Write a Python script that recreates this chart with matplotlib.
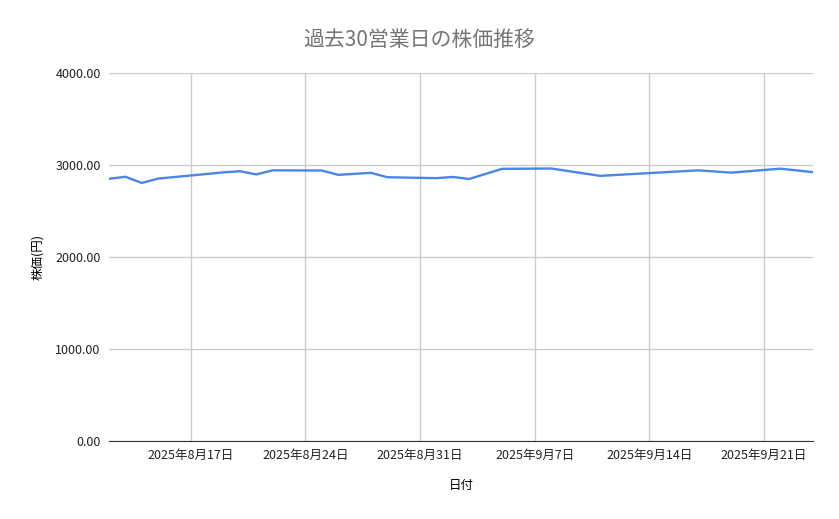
import matplotlib
matplotlib.use("Agg")
import matplotlib.pyplot as plt
import pandas as pd

plt.rcParams['font.family'] = ['Noto Sans CJK JP', 'DejaVu Sans']

# data
dates = ["2025-08-12", "2025-08-13", "2025-08-14", "2025-08-15", "2025-08-19",
         "2025-08-20", "2025-08-21", "2025-08-22", "2025-08-25", "2025-08-26",
         "2025-08-28", "2025-08-29", "2025-09-01", "2025-09-02", "2025-09-03",
         "2025-09-05", "2025-09-08", "2025-09-11", "2025-09-17", "2025-09-19",
         "2025-09-22", "2025-09-24"]
prices = [2850, 2872, 2805, 2852, 2920, 2932, 2898, 2942, 2940, 2893,
          2915, 2867, 2857, 2870, 2848, 2958, 2962, 2882, 2942, 2917,
          2960, 2922]
ticks = ["2025-08-17", "2025-08-24", "2025-08-31", "2025-09-07", "2025-09-14", "2025-09-21"]

x = pd.to_datetime(dates)

fig = plt.figure(figsize=(8.39, 5.19), dpi=100)
ax = fig.add_axes([109/839, 1 - 441/519, (813-109)/839, (441-73)/519])

ax.plot(x, prices, color="#4a86e8", linewidth=1.7)

ax.set_xlim(x[0], x[-1])
ax.set_ylim(0, 4000)
ax.set_yticks([0, 1000, 2000, 3000, 4000])
ax.yaxis.set_major_formatter(matplotlib.ticker.FormatStrFormatter("%.2f"))
tk = pd.to_datetime(ticks)
ax.set_xticks(tk)
ax.set_xticklabels([f"{d.year}年{d.month}月{d.day}日" for d in tk])

ax.grid(True, color="#cccccc", linewidth=1)
ax.set_axisbelow(True)
for s in ["top", "right", "left"]:
    ax.spines[s].set_visible(False)
ax.spines["bottom"].set_color("#333333")
ax.tick_params(length=0, labelsize=9, colors="#222222", pad=6)

ax.set_xlabel("日付", fontsize=9, labelpad=12)
ax.set_ylabel("株価(円)", fontsize=9, labelpad=8)
fig.suptitle("過去30営業日の株価推移", y=0.945, fontsize=15, color="#757575")

fig.savefig("out.png", dpi=100)
